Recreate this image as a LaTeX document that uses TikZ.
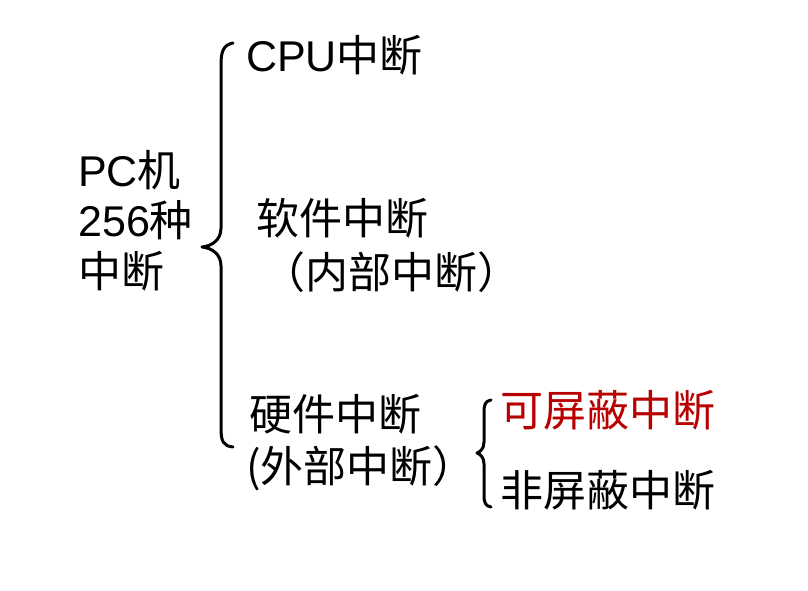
\documentclass[tikz,border=0pt]{standalone}
\usepackage{fontspec}
\setmainfont{Liberation Sans}
\newfontfamily\cjk{Noto Sans CJK SC}
\definecolor{darkred}{HTML}{B80000}
\begin{document}
\begin{tikzpicture}[x=1pt,y=-1pt,
  lbl/.style={anchor=west,inner sep=0pt,font=\fontsize{43}{46}\selectfont},
  brace/.style={line width=3pt,line cap=round,line join=round}]
\useasboundingbox[fill=white] (0,0) rectangle (808,590);
\node[lbl] (pc1) at (78,170) {PC{\cjk 机}};
\node[lbl] (pc2) at (78,220) {256{\cjk 种}};
\node[lbl] (pc3) at (78,271) {\cjk 中断};
\node[lbl] (cpu) at (246,55) {CPU{\cjk 中断}};
\node[lbl] (soft1) at (256,218) {\cjk 软件中断};
\node[lbl] (soft2) at (262,272) {\cjk （内部中断）};
\node[lbl] (hard1) at (249,414) {\cjk 硬件中断};
\node[lbl] (hard2) at (246,468) {\cjk (外部中断）};
\node[lbl,text=darkred] (mask) at (500,410) {\cjk 可屏蔽中断};
\node[lbl] (nmask) at (500,490) {\cjk 非屏蔽中断};
\coordinate (bt) at (233,43);
\coordinate (btip) at (202,247);
\coordinate (bb) at (233,447);
\draw[brace] (bt) .. controls (223,45) and (221,52) .. (221,65)
  -- (221,228) .. controls (221,240) and (212,246) .. (btip)
  .. controls (212,248) and (221,254) .. (221,266)
  -- (221,428) .. controls (221,441) and (223,446) .. (bb);
\coordinate (st) at (491,400);
\coordinate (stip) at (477,453);
\coordinate (sb) at (491,507);
\draw[brace] (st) .. controls (485,401) and (484,405) .. (484,412)
  -- (484,442) .. controls (484,449) and (480,452) .. (stip)
  .. controls (480,454) and (484,457) .. (484,464)
  -- (484,495) .. controls (484,502) and (485,506) .. (sb);
\end{tikzpicture}
\end{document}
